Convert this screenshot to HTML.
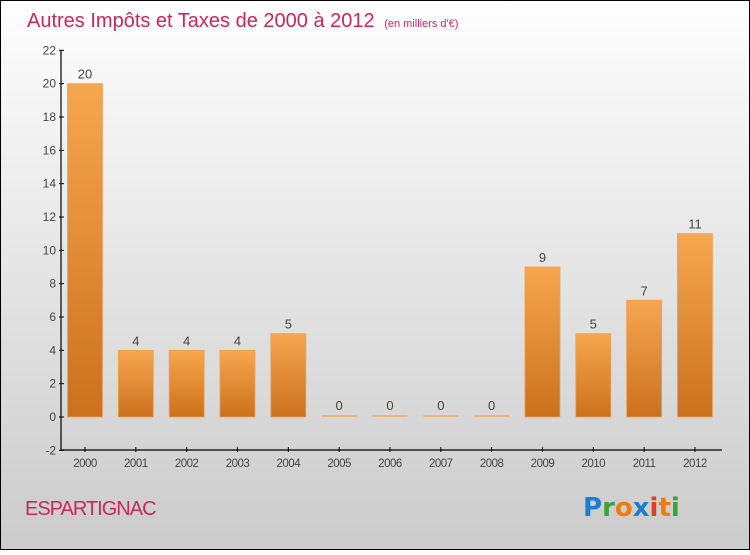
<!DOCTYPE html>
<html><head><meta charset="utf-8"><style>
body{margin:0;width:750px;height:550px;overflow:hidden;font-family:"Liberation Sans",sans-serif}
</style></head><body>
<svg width="750" height="550" xmlns="http://www.w3.org/2000/svg">
<defs>
<linearGradient id="bg" x1="0" y1="0" x2="0" y2="1"><stop offset="0" stop-color="#fefefe"/><stop offset="1" stop-color="#cbcbcb"/></linearGradient>
<linearGradient id="bar" x1="0" y1="0" x2="0" y2="1"><stop offset="0" stop-color="#f7a650"/><stop offset="1" stop-color="#cb711e"/></linearGradient>
</defs>
<rect x="0.5" y="0.5" width="749" height="549" fill="url(#bg)" stroke="#000"/>
<text x="27" y="27" font-size="20" fill="#c8285a">Autres Impôts et Taxes de 2000 à 2012 <tspan font-size="11" dx="4">(en milliers d'€)</tspan></text>
<g id="plot"></g>
<text x="25" y="515" font-size="20" fill="#c8285a" letter-spacing="-1">ESPARTIGNAC</text>
<g font-size="26" font-weight="bold" font-family="'DejaVu Sans',sans-serif">
<text x="583" y="516"><tspan fill="#1a7fd0">P</tspan><tspan fill="#3aa33a">r</tspan><tspan fill="#f07c10">o</tspan><tspan fill="#1a7fd0">x</tspan><tspan fill="#e04020">i</tspan><tspan fill="#f07c10">t</tspan><tspan fill="#3aa33a">i</tspan></text>
</g>
</svg>
<script>
const categories=["2000","2001","2002","2003","2004","2005","2006","2007","2008","2009","2010","2011","2012"];
const values=[20,4,4,4,5,0,0,0,0,9,5,7,11];
const yTicks=[-2,0,2,4,6,8,10,12,14,16,18,20,22];
const NS="http://www.w3.org/2000/svg";
const g=document.getElementById('plot');
const y=v=>417-(v)*(400/24);
const x=i=>85+i*50.83;
function el(t,a){const e=document.createElementNS(NS,t);for(const k in a)e.setAttribute(k,a[k]);g.appendChild(e);return e;}
let ax=el('line',{x1:61,y1:50,x2:61,y2:450,stroke:'#000','stroke-width':1.2});


let bx=el('line',{x1:61,y1:450,x2:722,y2:450,stroke:'#000','stroke-width':1.2});


yTicks.forEach(v=>{
 el('line',{x1:59,x2:64,y1:y(v),y2:y(v),stroke:'#000'});
 const t=el('text',{x:56,y:y(v)+4,'font-size':12,fill:'#444','text-anchor':'end'});
 t.textContent=v;
 
 
});
categories.forEach((c,i)=>{
 el('line',{x1:x(i),x2:x(i),y1:447,y2:452,stroke:'#000'});
 const t=el('text',{x:x(i),y:467,'font-size':11.5,fill:'#444','text-anchor':'middle','letter-spacing':'-0.5'});
 t.textContent=c;
 
 
 const v=values[i];
 const top=y(v),h=Math.max(y(0)-top,2);
 const r=el('rect',{x:x(i)-17.5,y:v>0?top:y(0)-2,width:35,height:h,fill:v>0?'url(#bar)':'#f2b27a',stroke:v>0?'#f0a050':'none','stroke-width':0.8});
 
 
 const l=el('text',{x:x(i),y:(v>0?top:y(0)-2)-5,'font-size':13,fill:'#444','text-anchor':'middle'});
 l.textContent=v;
 
 
});
</script>
</body></html>
